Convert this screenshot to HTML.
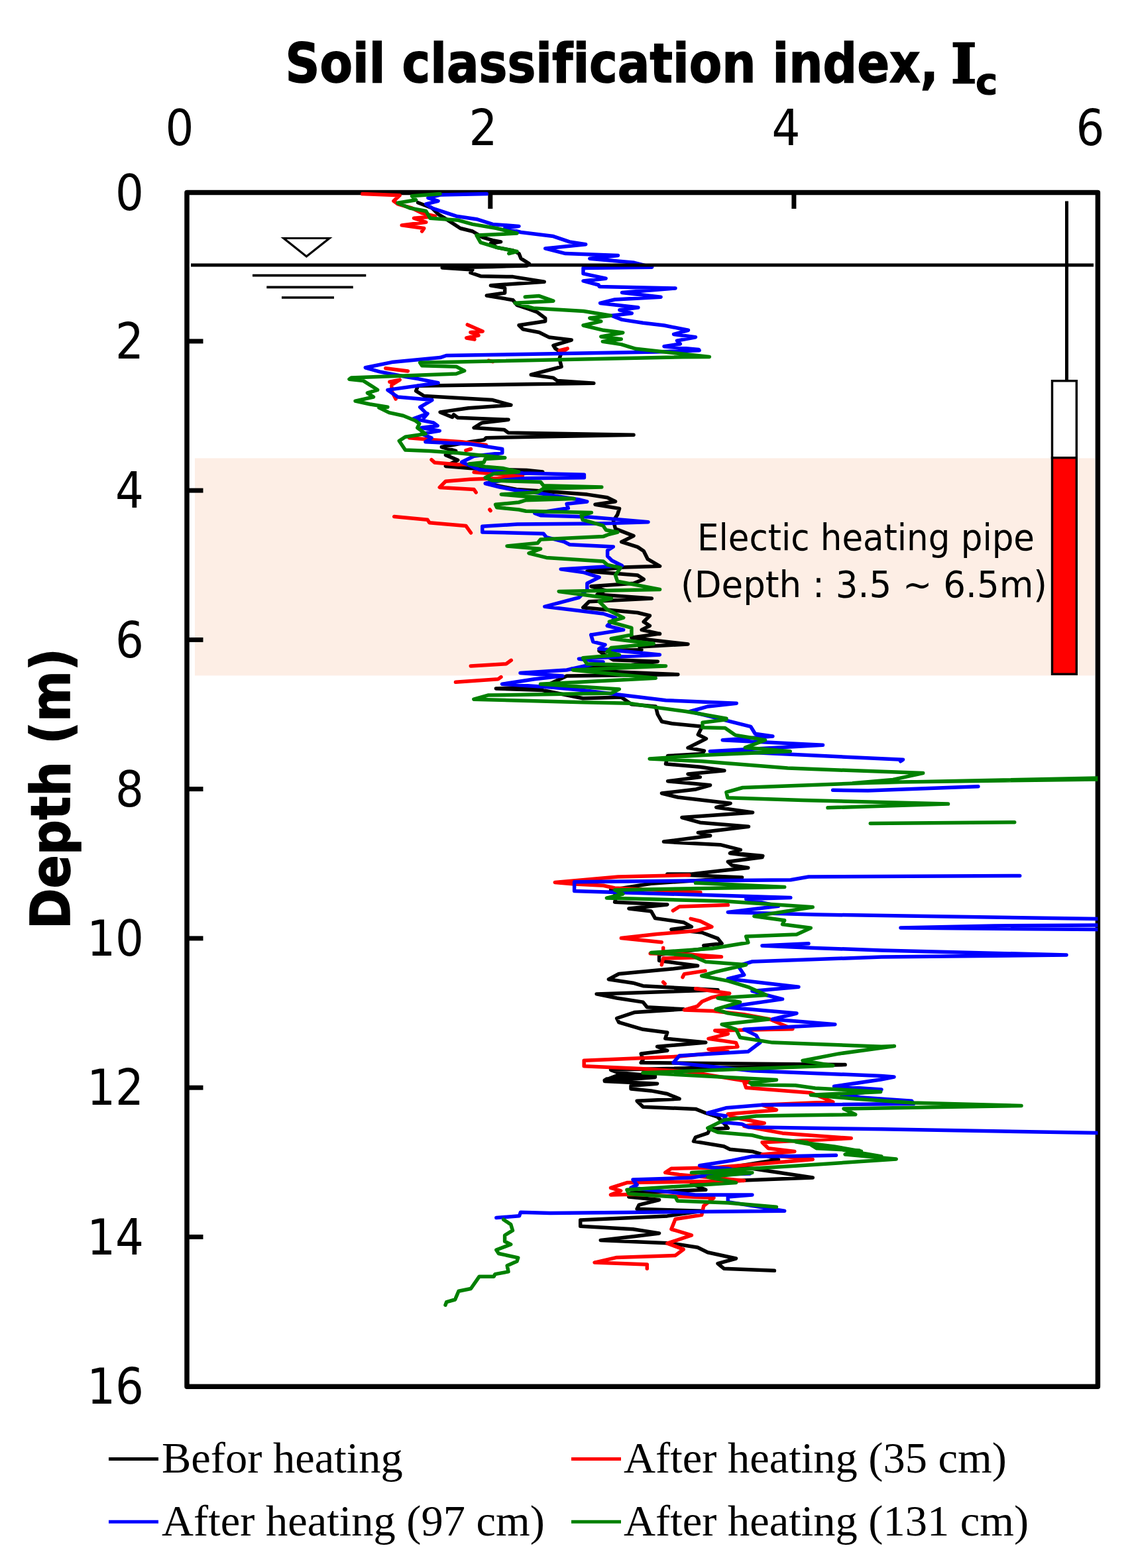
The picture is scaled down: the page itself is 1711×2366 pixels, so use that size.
<!DOCTYPE html>
<html><head><meta charset="utf-8"><title>Soil classification index</title>
<style>
html,body{margin:0;padding:0;background:#fff;}
svg{display:block;}
text{font-variant-ligatures:none;font-feature-settings:"liga" 0,"clig" 0;}
.tk{font-family:"DejaVu Sans","Liberation Sans",sans-serif;font-size:75px;fill:#000;}
.lg{font-family:"Liberation Serif",serif;font-size:66.5px;fill:#000;}
.an{font-family:"DejaVu Sans","Liberation Sans",sans-serif;font-size:55px;fill:#000;}
.tr{fill:none;stroke-width:5.5;stroke-linejoin:round;stroke-linecap:round;}
</style></head>
<body>
<svg width="1711" height="2366" viewBox="0 0 1711 2366">
<rect x="0" y="0" width="1711" height="2366" fill="#fff"/>
<!-- title -->
<text x="430.5" y="123.8" font-family="'DejaVu Sans', 'Liberation Sans', sans-serif" font-weight="bold" font-size="82" stroke="#000" stroke-width="1.6" textLength="985.5" lengthAdjust="spacingAndGlyphs">Soil classification index,</text>
<text x="1435" y="124.5" font-family="'DejaVu Serif', 'Liberation Serif', serif" font-weight="bold" font-size="82" stroke="#000" stroke-width="2.5">I</text>
<text x="1472" y="142" font-family="'DejaVu Sans', 'Liberation Sans', sans-serif" font-weight="bold" font-size="56" stroke="#000" stroke-width="1.2">c</text>
<!-- top tick labels -->
<g class="tk" text-anchor="middle">
<text transform="translate(271,219) scale(0.9,1)">0</text>
<text transform="translate(729,219) scale(0.9,1)">2</text>
<text transform="translate(1186,219) scale(0.9,1)">4</text>
<text transform="translate(1645,219) scale(0.9,1)">6</text>
</g>
<!-- left tick labels -->
<g class="tk" text-anchor="end">
<text transform="translate(217,316.5) scale(0.9,1)">0</text>
<text transform="translate(217,541) scale(0.9,1)">2</text>
<text transform="translate(217,766.3) scale(0.9,1)">4</text>
<text transform="translate(217,991.6) scale(0.9,1)">6</text>
<text transform="translate(217,1216.8) scale(0.9,1)">8</text>
<text transform="translate(217,1442) scale(0.9,1)">10</text>
<text transform="translate(217,1667.3) scale(0.9,1)">12</text>
<text transform="translate(217,1892.6) scale(0.9,1)">14</text>
<text transform="translate(217,2117.8) scale(0.9,1)">16</text>
</g>
<!-- y axis title -->
<text transform="translate(105,1402) rotate(-90)" font-family="'DejaVu Sans', 'Liberation Sans', sans-serif" font-weight="bold" font-size="82" stroke="#000" stroke-width="1.6" textLength="424" lengthAdjust="spacingAndGlyphs">Depth (m)</text>

<!-- heating band -->
<rect x="294" y="691.4" width="1358" height="328" fill="#fdeee5"/>

<!-- frame & ticks -->
<rect x="282" y="290.5" width="1374.4" height="1801.7" fill="none" stroke="#000" stroke-width="7.5" stroke-linejoin="round"/>
<g stroke="#000" stroke-width="7">
<line x1="739.8" y1="290" x2="739.8" y2="315"/>
<line x1="1197.9" y1="290" x2="1197.9" y2="315"/>
<line x1="282" y1="514.9" x2="306.5" y2="514.9"/>
<line x1="282" y1="740.1" x2="306.5" y2="740.1"/>
<line x1="282" y1="965.4" x2="306.5" y2="965.4"/>
<line x1="282" y1="1190.6" x2="306.5" y2="1190.6"/>
<line x1="282" y1="1415.9" x2="306.5" y2="1415.9"/>
<line x1="282" y1="1641.2" x2="306.5" y2="1641.2"/>
<line x1="282" y1="1866.4" x2="306.5" y2="1866.4"/>
</g>
<!-- traces placeholder -->
<defs><clipPath id="pc"><rect x="282" y="286" width="1374.4" height="1806"/></clipPath></defs>
<g id="traces" clip-path="url(#pc)">
<path class="tr" stroke="#000000" d="M630.6,305.7 652.0,314.0 661.1,323.1 673.3,330.7 694.6,344.5 712.9,349.0 728.2,358.2 743.4,362.7 755.6,364.9 740.4,367.3 749.5,373.4 773.9,378.0 783.0,382.6 786.1,390.2 798.3,397.8 795.2,400.9 743.4,402.4 667.2,403.9 712.9,407.0 709.9,411.5 725.1,416.7 773.9,417.6 821.2,425.2 740.4,430.7 761.7,434.4 761.7,442.0 734.3,446.0 773.9,452.7 780.0,460.3 798.3,466.4 810.5,471.0 822.7,480.1 822.7,484.7 783.0,490.8 789.1,496.9 813.5,501.5 828.8,509.1 862.3,513.0 834.9,521.3 837.9,525.9 847.1,532.0 844.0,541.1 847.1,553.3 801.3,565.5 834.9,570.1 841.0,574.6 895.9,578.3 630.6,582.3 627.6,589.9 639.8,597.5 743.4,603.6 770.9,611.2 706.8,615.8 664.1,621.9 682.4,629.5 684.6,625.7 690.7,630.2 767.0,633.3 727.3,637.9 715.1,645.5 760.9,648.5 767.0,653.1 956.0,656.2 733.4,660.7 730.4,663.8 709.0,666.8 666.3,674.5 687.7,680.5 672.4,686.6 690.7,694.3 672.4,703.4 709.0,706.5 733.4,708.0 794.4,709.5 818.8,712.0 779.1,715.6 733.4,729.3 779.1,738.5 824.9,741.5 885.9,746.1 916.3,750.7 928.5,756.8 898.0,761.3 934.6,767.4 931.6,776.6 925.5,785.7 928.5,797.9 956.0,808.6 937.7,817.7 962.1,825.4 971.2,831.5 977.3,843.7 995.6,854.3 940.7,855.9 885.9,862.0 962.1,868.0 971.2,874.1 956.0,880.2 892.0,884.8 913.3,890.9 901.1,897.0 983.4,903.1 888.9,907.7 879.8,916.8 962.1,924.5 980.4,929.0 971.2,938.2 980.4,944.3 968.2,950.4 995.6,956.5 995.4,956.1 952.7,962.2 1038.0,972.0 964.9,975.9 967.9,980.5 903.9,982.0 910.0,986.6 925.2,995.7 992.3,998.2 952.7,1003.4 861.2,1009.5 934.4,1014.0 1022.8,1017.7 855.1,1020.1 818.5,1036.9 748.4,1039.0 818.5,1041.5 879.5,1053.7 937.4,1052.1 952.7,1062.8 989.3,1065.9 992.3,1078.0 998.4,1088.7 1013.7,1091.8 1059.4,1096.3 1053.3,1108.5 1065.5,1114.6 1053.3,1120.7 1038.0,1128.4 1062.4,1132.9 1059.4,1137.5 1007.6,1140.5 1004.5,1152.7 1056.3,1157.3 1092.9,1162.8 1038.0,1168.0 1056.3,1172.6 1007.6,1178.7 1071.6,1184.8 1050.2,1190.9 998.4,1197.0 1022.8,1203.0 1102.1,1212.2 1080.7,1218.3 1135.6,1225.9 1028.9,1233.5 1056.3,1241.2 1129.5,1247.3 1053.3,1256.4 1071.6,1261.0 1001.5,1270.1 1086.8,1274.7 1117.3,1282.3 1102.1,1286.9 1150.9,1291.5 1150.7,1291.4 1101.3,1287.4 1150.1,1293.5 1098.3,1300.2 1104.4,1305.7 1128.8,1309.4 1086.1,1314.0 1043.4,1319.1 1006.8,1319.1 1119.6,1324.0 982.4,1333.2 921.5,1342.9 930.6,1350.5 927.6,1361.2 1006.8,1364.9 948.9,1371.0 982.4,1374.9 988.5,1385.6 1031.2,1391.7 1043.4,1398.4 1012.9,1402.4 1058.7,1407.0 1083.0,1416.1 1089.1,1423.7 1061.7,1426.8 1067.8,1430.7 994.6,1440.5 994.6,1449.6 1052.6,1457.3 1016.0,1461.8 933.7,1469.5 918.4,1477.7 955.0,1483.2 970.2,1487.7 1083.0,1493.8 900.1,1499.9 930.6,1506.0 970.2,1512.1 976.3,1519.8 1031.2,1522.8 958.0,1527.4 930.6,1536.5 933.7,1542.6 970.2,1553.3 1006.8,1557.9 1003.8,1567.0 1064.8,1573.1 991.6,1579.2 1006.8,1585.3 967.2,1589.9 970.2,1599.0 967.2,1603.6 1275.1,1606.6 921.5,1614.3 933.7,1618.8 988.5,1623.4 915.4,1628.0 912.3,1630.1 912.3,1630.1 930.6,1623.0 988.5,1625.5 912.3,1631.6 991.6,1635.2 952.0,1638.3 952.0,1642.9 982.4,1645.9 1006.8,1650.5 1025.1,1658.1 961.1,1661.2 970.2,1670.3 1049.5,1673.4 1064.8,1679.5 1083.0,1685.5 1092.2,1694.7 1098.3,1702.3 1070.9,1703.8 1067.8,1709.9 1049.5,1716.0 1046.5,1722.1 1092.2,1729.8 1101.3,1734.3 1134.9,1737.4 1150.1,1742.0 1174.5,1749.6 1104.4,1760.9 1134.9,1763.3 1226.3,1777.0 1122.7,1781.0 1043.4,1786.2 1064.8,1795.3 952.0,1799.9 948.9,1806.0 994.6,1810.5 964.1,1818.2 961.1,1824.3 1058.7,1827.3 1006.8,1834.9 875.7,1841.0 875.7,1850.2 955.0,1854.8 994.6,1860.9 958.0,1865.4 906.2,1871.5 1012.9,1876.1 1052.6,1882.2 1067.8,1889.8 1110.5,1899.0 1083.0,1906.6 1092.2,1914.2 1168.4,1917.3"/>
<path class="tr" stroke="#ff0000" d="M546.8,292.6 603.2,294.8 594.0,303.3 600.1,307.9 621.5,314.0 636.7,321.6 656.5,326.2 642.8,327.7 624.5,329.2 642.8,335.3 606.2,339.9 639.8,344.5 636.7,349.0M705.3,489.9 728.2,499.9 709.9,501.5 722.1,506.0 703.8,510.0 716.0,512.1M844.0,528.9 856.2,525.9 847.1,532.0M737.3,544.1 743.4,545.7M581.8,555.7 615.4,560.0M587.9,576.2 603.2,573.1 591.0,580.7 591.0,589.9 597.1,602.1M617.6,660.7 654.1,663.8 696.8,666.8 733.4,671.4M702.9,679.6 710.5,677.5M651.1,693.7 655.7,697.9 690.7,701.0 715.1,700.4M715.1,712.6 751.7,715.6 788.3,718.7 751.7,721.7 709.0,723.2 672.4,726.3 663.3,735.4 715.1,738.5 718.2,743.0M738.9,769.0 740.1,770.5M594.7,779.6 645.0,784.2 648.0,788.8 702.9,793.4 710.5,804.0M710.3,1004.9 763.7,1001.8 771.3,996.3M687.4,1029.3 751.5,1024.7 756.0,1021.6M1039.8,1320.5 932.4,1322.9 837.3,1331.5 866.6,1333.9 910.5,1336.3 927.6,1340.0 1056.8,1346.6M1015.4,1374.1 1025.1,1368.0 1098.3,1365.6M1042.2,1386.3 1056.8,1390.0 1073.9,1398.5 1049.5,1404.6 991.0,1409.5 937.3,1415.6 998.3,1421.7M1000.7,1430.2 1000.7,1432.7M981.2,1438.8 1037.3,1440.0 1088.5,1443.7 1000.7,1446.1 998.3,1455.9M1030.0,1474.6 1032.4,1469.8 1064.1,1464.9M1000.7,1482.0 1003.2,1484.4M1049.5,1491.7 1100.7,1499.0 1073.9,1505.1 1059.3,1511.2 1052.0,1518.5 1032.4,1523.9 1076.3,1525.4 1122.7,1530.7 1161.7,1538.0 1195.9,1552.7 1078.8,1555.1 1098.3,1560.0 1069.0,1567.3 1110.5,1573.4 1112.9,1579.5 1069.0,1583.2 1098.3,1586.8 1025.1,1594.1 881.2,1600.2 881.2,1608.8 966.6,1612.4 1039.8,1617.3 1122.7,1630.7 1134.9,1634.1 1122.7,1632.8 1125.7,1641.3 1223.3,1649.0 1256.8,1662.7 1150.1,1667.3 1171.5,1674.9 1098.3,1681.0 1104.4,1685.5 1153.2,1694.7 1122.7,1699.3 1180.6,1709.9 1284.3,1717.6 1150.1,1723.7 1159.3,1732.8 1198.9,1737.4 1150.1,1742.0 1226.3,1749.6 1080.0,1761.8 1012.9,1763.3 1003.8,1769.4 1025.1,1772.4 1122.7,1781.6 945.9,1784.6 921.5,1792.3 936.7,1796.8 921.5,1802.9 952.0,1802.3 1077.0,1807.5 1061.7,1819.7 1058.7,1833.4 1019.0,1839.5 1012.9,1854.8 1043.4,1863.9 1006.8,1876.1 1031.2,1885.2 1019.0,1894.4 930.6,1897.4 897.1,1905.1 976.3,1908.1 976.3,1914.2"/>
<path class="tr" stroke="#0000ff" d="M734.3,292.6 664.1,294.1 645.9,298.7 661.1,303.3 642.8,307.9 652.0,314.0 670.2,320.1 688.5,326.2 719.0,330.7 743.4,338.4 783.0,341.4 761.7,344.5 786.1,350.5 834.9,356.6 859.3,364.9 883.7,368.8 822.7,374.9 853.2,382.6 932.4,385.6 889.8,390.2 956.8,396.3 956.8,396.5 983.7,403.2 880.0,404.4 880.0,412.9 914.1,420.2 880.0,423.9 903.2,430.0 904.4,432.4 1019.0,434.9 938.5,441.6 997.1,448.3 927.6,452.0 905.6,457.4 962.9,464.1 934.9,467.8 953.2,472.7 922.7,476.3 938.5,482.4 970.2,487.3 1002.0,491.0 1038.5,498.3 1016.6,504.4 1049.5,508.7 1021.5,514.1 1026.3,519.0 1002.0,522.7 1054.4,527.6 1055.1,528.7 990.5,531.1 673.3,536.5 664.1,539.6 591.0,546.6 551.3,554.8 572.7,560.9 612.3,568.5 630.6,571.6 661.1,577.7 584.9,588.4 600.1,599.0 652.0,603.6 633.7,614.3 642.8,623.4 639.8,630.1 645.0,624.1 623.7,631.8 654.1,637.9 660.2,642.4 635.9,645.5 663.3,650.1 635.9,654.6 651.1,660.7 642.0,666.8 709.0,669.9 757.8,677.5 757.8,683.6 715.1,688.2 696.8,697.3 723.4,708.7 758.5,710.9 789.3,714.1 881.4,716.3 881.4,720.7 793.6,721.8 762.9,724.0 732.2,729.5 754.1,735.0 776.1,739.4 811.2,743.8 837.5,748.2 872.7,753.7 885.8,756.9 855.1,760.2 857.3,766.8 806.8,774.5 815.6,777.8 888.0,780.0 978.0,787.7 903.4,789.9 780.5,791.0 727.8,794.3 727.8,803.0 820.0,805.2 824.4,810.7 850.7,817.3 859.5,821.7 925.3,825.0 916.6,830.5 916.6,839.3 923.1,845.8 938.5,853.5 846.2,858.9 879.8,863.5 904.1,871.1 885.9,880.2 885.9,889.4 873.7,901.6 821.8,915.3 861.5,919.9 910.2,926.0 928.5,932.1 916.3,944.3 940.7,950.4 892.0,958.0 891.7,957.9 894.8,968.3 913.0,972.9 903.9,979.0 995.4,988.1 928.3,991.2 873.4,994.2 910.0,998.8 855.1,1011.0 785.0,1015.5 849.0,1020.1 806.3,1024.7 757.6,1032.3 830.7,1036.9 879.5,1041.5 928.3,1047.6 1004.5,1056.7 1111.2,1061.3 1068.5,1065.9 1041.1,1073.5 1132.6,1096.3 1139.4,1107.3 1165.9,1111.0 1090.2,1116.7 1241.5,1124.3 1071.3,1133.7 1135.6,1135.6 1362.5,1146.2 1358.7,1148.8M1256.6,1192.3 1309.5,1193.1 1475.9,1186.7M1538.7,1321.5 1220.0,1323.0 1192.8,1327.7 866.6,1330.7 866.6,1344.5 1192.8,1354.5 1125.7,1356.6 1174.5,1367.3 1098.3,1376.5 1230.0,1380.0 1657.0,1386.5M1657.0,1396.0 1500.0,1397.0 1359.0,1400.0 1657.0,1402.5M1220.0,1423.7 1150.0,1427.0 1230.0,1430.4 1330.0,1434.0 1609.0,1441.0 1330.0,1444.0 1135.0,1451.0 1113.5,1457.3 1122.7,1471.0 1098.3,1477.0 1205.0,1489.3 1134.9,1495.4 1156.2,1501.5 1180.6,1507.6 1095.2,1519.8 1202.0,1529.0 1165.4,1538.0 1259.9,1545.7 1122.7,1553.3 1141.0,1562.4 1147.0,1573.0 1128.8,1586.8 1025.0,1593.0 1016.0,1603.6 1134.9,1615.8 1330.0,1623.4 1349.0,1625.0 1328.8,1629.0 1258.5,1639.3 1330.0,1644.0 1270.0,1654.0 1375.6,1661.2 1378.5,1665.6 1200.0,1667.0 1150.1,1667.3 1095.2,1671.8 1067.8,1679.5 1095.2,1684.0 1089.1,1693.2 1119.6,1696.2 1128.8,1700.8 1330.0,1703.8 1656.6,1709.5M1261.5,1743.2 1200.0,1744.6 1134.9,1745.0 1104.4,1751.1 1055.6,1758.7 1073.9,1761.8 1098.3,1763.3 1131.8,1770.9 1073.9,1772.4 1043.4,1777.0 955.0,1780.1 961.1,1787.7 952.0,1792.3 1049.5,1802.9 1134.9,1802.9 1098.3,1806.0 1098.3,1813.6 1183.7,1827.3 830.0,1830.4 785.4,1829.3 783.5,1834.8 748.8,1837.5"/>
<path class="tr" stroke="#008000" d="M664.1,292.6 621.5,295.7 627.6,301.8 600.1,306.3 618.4,314.0 642.8,318.5 648.9,329.2 691.6,332.3 712.9,338.4 749.5,344.5 780.0,352.1 719.0,355.1 725.1,365.8 749.5,373.4 780.0,379.5 767.8,382.6M792.2,448.1 813.5,446.6 834.9,454.2 777.0,457.3 804.4,464.9 880.6,469.5 921.5,476.3 889.8,480.0 906.8,484.9 880.0,491.0 910.5,498.3 939.8,502.0 906.8,508.0 937.3,511.7 909.3,515.4 937.3,519.6 959.3,526.3 1070.4,538.4 1030.0,538.7 633.7,547.2 636.7,551.8 688.5,553.3 700.7,559.4 688.5,564.0 530.0,570.1 527.0,572.2 548.3,574.6 560.5,582.3 569.6,588.4 554.4,592.9 563.5,599.0 536.1,605.1 557.4,609.7 584.9,614.3 571.8,615.0 587.1,622.6 608.4,627.2 626.7,634.8 632.8,639.4 629.8,645.5 642.0,654.6 611.5,659.2 602.3,665.3 611.5,679.0 648.0,680.5 690.7,683.6 761.8,690.7 732.2,692.6 730.0,697.7 708.0,699.9 732.2,704.3 758.5,706.5 782.7,711.9 745.4,714.6 732.2,720.7 743.2,725.1 815.6,727.3 820.0,732.8 907.8,735.0 820.0,737.2 811.2,742.7 756.3,746.0 793.6,749.3 866.1,752.6 793.6,754.7 782.7,758.0 747.6,761.3 749.7,765.7 782.7,769.0 793.6,771.2 892.4,773.4 877.1,777.8 879.2,784.4 910.0,793.2 914.4,799.7 931.9,803.0 918.8,806.3 910.0,809.6 815.6,814.0 811.2,819.5 765.1,823.9 815.6,828.3 798.0,834.9 824.4,841.4 910.0,846.9 916.6,852.4 936.3,856.8 928.5,868.0 931.6,877.2 995.6,889.4 843.2,892.4 922.4,903.1 904.1,907.7 916.3,919.9 940.7,932.1 919.4,938.2 952.9,947.3 952.9,958.0 953.0,957.9 922.2,963.7 986.2,971.3 922.2,977.4 916.1,983.5 934.4,988.1 879.5,992.7 885.6,1001.8 1004.5,1004.9 864.3,1011.0 989.3,1023.2 815.5,1032.3 934.4,1039.9 922.2,1046.0 736.2,1049.1 714.9,1055.2 879.5,1059.8 949.6,1061.3 989.3,1067.4 1035.0,1073.5 1096.0,1084.1 1095.9,1085.7 1060.0,1090.2 1060.0,1097.8 1094.0,1098.6 1109.1,1109.1 1154.5,1116.7 1124.3,1128.1 1192.3,1133.7 1060.0,1139.4 980.1,1145.1 1060.0,1148.8 1188.5,1159.1 1392.7,1166.6 1347.3,1176.4 1286.8,1181.7 1680.0,1173.4 1680.0,1175.7 1339.8,1180.2 1120.5,1188.5 1095.9,1195.3 1097.8,1203.7 1211.2,1207.4 1430.5,1213.1 1249.0,1218.8M1313.3,1242.6 1530.7,1240.7M1049.5,1332.3 1183.7,1338.4 927.6,1342.9 939.8,1349.0 915.4,1355.1 1092.2,1359.7 1226.3,1368.8 1137.9,1382.6 1183.7,1388.7 1180.6,1394.8 1223.3,1400.2 1202.0,1410.0 1125.7,1413.0 1128.8,1422.2 1073.9,1431.3 982.4,1437.4 1043.4,1442.0 1064.8,1451.2 1125.7,1455.7 1080.0,1466.4 1058.7,1472.5 1098.3,1480.1 1128.8,1489.3 1156.2,1501.5 1083.0,1506.0 1116.6,1512.1 1080.0,1522.8 1098.3,1528.9 1159.3,1538.0 1089.1,1545.7 1110.5,1553.3 1116.6,1565.5 1165.4,1573.1 1330.0,1579.2 1349.4,1578.6 1266.0,1589.9 1211.0,1600.5 1256.8,1608.0 970.0,1618.8 1171.5,1629.5 1131.8,1633.7 1134.9,1636.8 1200.1,1637.7 1230.0,1642.0 1328.8,1647.4 1223.3,1652.3 1290.1,1658.1 1375.6,1664.0 1541.0,1668.5 1273.0,1673.0 1290.7,1681.7 1200.0,1683.0 1141.0,1684.0 1092.2,1690.1 1067.8,1702.3 1083.0,1708.4 1134.9,1713.0 1153.2,1717.6 1217.2,1723.7 1232.4,1732.8 1296.5,1735.9 1275.1,1742.0 1330.0,1745.0 1200.0,1722.7 1258.5,1730.0 1299.5,1737.3 1279.0,1742.3 1352.2,1749.0 1200.0,1759.3 1134.9,1763.3 1043.4,1769.4 1134.9,1769.4 1067.8,1776.1 1110.5,1784.6 945.9,1795.3 948.9,1801.4 1019.0,1806.0 1022.1,1812.1 1098.3,1815.1 1171.5,1821.2M759.7,1840.2 770.7,1847.6 773.5,1856.7 761.6,1864.0 761.6,1873.2 770.7,1877.7 748.8,1886.0 752.4,1891.5 781.7,1897.9 779.9,1903.3 765.2,1909.7 767.0,1918.9 747.0,1922.6 745.1,1926.2 723.2,1926.2 710.4,1944.5 692.0,1948.2 686.6,1961.0 673.8,1964.6 672.0,1969.2"/>
</g>

<!-- water table -->
<line x1="288" y1="400" x2="1650" y2="400" stroke="#000" stroke-width="5"/>
<polygon points="428,359.5 497,359.5 462.4,387" fill="none" stroke="#000" stroke-width="3.2"/>
<line x1="381" y1="415.6" x2="552.3" y2="415.6" stroke="#000" stroke-width="3.7"/>
<line x1="402.3" y1="433.3" x2="532.8" y2="433.3" stroke="#000" stroke-width="3.7"/>
<line x1="425" y1="449" x2="504" y2="449" stroke="#000" stroke-width="3.7"/>

<!-- heating pipe -->
<line x1="1609.5" y1="303.5" x2="1609.5" y2="575" stroke="#000" stroke-width="5"/>
<rect x="1587.5" y="574.7" width="36.8" height="116" fill="#fff" stroke="#000" stroke-width="3.4"/>
<rect x="1587.5" y="690.7" width="36.8" height="326.5" fill="#ff0000" stroke="#000" stroke-width="3.4"/>

<!-- annotation -->
<g class="an">
<text x="1052" y="829.5" textLength="509" lengthAdjust="spacingAndGlyphs">Electic heating pipe</text>
<text x="1027" y="901.3" textLength="553" lengthAdjust="spacingAndGlyphs">(Depth : 3.5 ~ 6.5m)</text>
</g>


<!-- legend -->
<g stroke-width="5">
<line x1="164" y1="2201.5" x2="239" y2="2201.5" stroke="#000"/>
<line x1="862" y1="2201.5" x2="937" y2="2201.5" stroke="#ff0000"/>
<line x1="164" y1="2296.3" x2="239" y2="2296.3" stroke="#0000ff"/>
<line x1="862" y1="2296.3" x2="937" y2="2296.3" stroke="#008000"/>
</g>
<g class="lg">
<text x="244" y="2222">Befor heating</text>
<text x="941" y="2222">After heating (35 cm)</text>
<text x="244" y="2317">After heating (97 cm)</text>
<text x="941" y="2317">After heating (131 cm)</text>
</g>
</svg>
</body></html>
